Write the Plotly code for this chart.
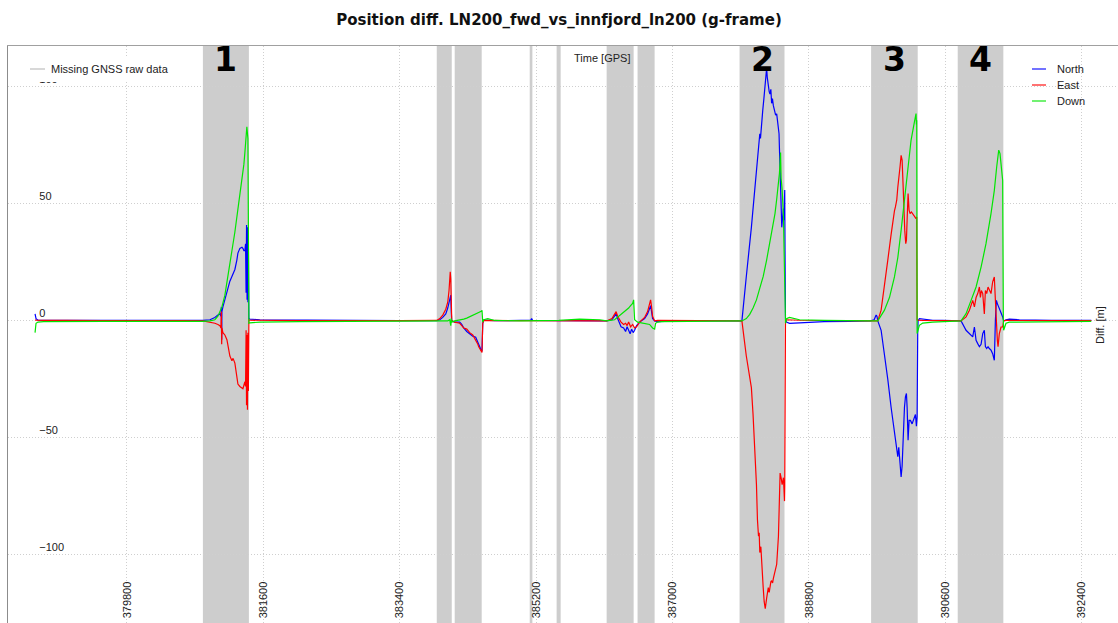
import plotly.graph_objects as go

# ---- position difference data (GPS seconds of week, metres) ----
t_north = [378587, 378594, 378600, 378626, 378700, 379000, 379500, 380000, 380500, 380802,
           380895, 380960, 381000, 381026, 381040, 381045, 381050, 381053, 381066, 381092,
           381119, 381158, 381185, 381224, 381250, 381264, 381290, 381317, 381330, 381343,
           381356, 381365, 381372, 381378, 381385, 381390, 381396, 381402, 381409, 381422,
           381554, 382081, 382741, 383400, 383888, 383928, 383967, 384007, 384033, 384059,
           384073, 384080, 384086, 384125, 384191, 384218, 384244, 384284, 384323, 384363,
           384402, 384430, 384442, 384468, 384485, 384495, 384508, 384561, 384653, 385000,
           385128, 385140, 385154, 385500, 385774, 386038, 386130, 386200, 386235, 386255,
           386275, 386300, 386320, 386354, 386380, 386400, 386420, 386440, 386460, 386480,
           386499, 386525, 386565, 386631, 386670, 386697, 386710, 386723, 386736, 386763,
           386802, 387092, 387620, 387884, 387915, 387973, 388018, 388040, 388062, 388085,
           388107, 388116, 388130, 388143, 388151, 388160, 388174, 388190, 388205, 388215,
           388227, 388241, 388250, 388263, 388275, 388285, 388297, 388307, 388318, 388330,
           388343, 388360, 388374, 388385, 388397, 388405, 388410, 388419, 388425, 388432,
           388441, 388446, 388454, 388463, 388470, 388477, 388480, 388484, 388486, 388490,
           388503, 388543, 388675, 389000, 389334, 389611, 389660, 389686, 389697, 389708,
           389752, 389796, 389840, 389884, 389906, 389928, 389941, 389958, 389972, 389985,
           390002, 390016, 390029, 390042, 390060, 390073, 390086, 390095, 390108, 390121,
           390139, 390161, 390183, 390205, 390218, 390227, 390235, 390240, 390257, 390301,
           390433, 390565, 390763, 390807, 390873, 390917, 390961, 390983, 391005, 391027,
           391049, 391071, 391093, 391114, 391128, 391145, 391163, 391180, 391202, 391224,
           391246, 391260, 391273, 391286, 391304, 391321, 391339, 391356, 391369, 391400,
           391444, 391576, 392000, 392525]
north = [3.0, 2.0, 1.0, 0.3, 0.2, 0.3, 0.1, 0.2, 0.3, 0.2,
         0.5, 1.5, 2.5, 3.0, 2.0, 6.0, -8.0, 4.0, 6.0, 9.0,
         13.0, 17.0, 19.0, 22.0, 26.0, 29.0, 31.0, 31.5, 31.0, 30.0,
         30.0, 33.0, 12.0, 41.0, 9.0, 40.0, 8.0, 35.0, 1.0, 0.8,
         0.5, 0.3, 0.2, 0.1, 0.1, 0.5, 1.5, 3.0, 5.5, 9.0,
         11.0, 4.0, 0.0, -0.5, -0.5, -1.5, -3.0, -4.5, -5.5, -6.5,
         -7.0, -9.5, -10.5, -12.0, -13.0, -1.0, 0.3, 0.2, 0.1, 0.2,
         0.3, 1.0, 0.2, 0.1, 0.0, 0.1, 0.0, 0.5, 2.0, 3.0,
         1.0, -1.5, -2.5, -3.0, -4.5, -2.5, -4.0, -5.5, -3.5, -5.0,
         -4.0, -2.0, -0.5, 1.0, 3.0, 5.0, 6.5, 4.0, 1.0, 0.0,
         -0.3, 0.0, 0.0, 0.0, 0.0, 19.0, 32.0, 40.0, 48.0, 56.0,
         63.0, 67.5, 70.0, 77.0, 80.0, 78.0, 85.0, 90.0, 95.0, 99.0,
         103.0, 108.0, 104.0, 100.0, 98.0, 97.0, 99.0, 93.0, 95.0, 92.0,
         90.0, 88.0, 88.5, 86.0, 84.0, 80.0, 74.0, 64.0, 58.0, 53.0,
         40.0, 42.0, 45.0, 48.0, 43.0, 50.0, 56.0, 30.0, 20.0, 0.5,
         -0.5, -1.0, -0.8, -0.3, -0.2, 0.0, 0.5, 2.5, 2.0, 0.0,
         -4.0, -14.0, -25.0, -37.0, -42.5, -47.0, -49.6, -55.0, -58.0, -54.0,
         -59.5, -66.7, -62.0, -48.0, -37.0, -32.5, -31.0, -36.8, -51.0, -42.5,
         -42.5, -44.0, -42.0, -40.0, -45.0, -41.0, -5.4, 0.0, 1.0, 0.8,
         0.3, 0.2, 0.1, 0.0, -4.0, -5.4, -6.8, -2.6, -8.3, -9.7,
         -11.0, -10.0, -5.4, -4.0, -11.0, -11.8, -11.0, -11.8, -12.5, -14.0,
         -16.8, 0.3, 8.8, 7.4, 6.0, 4.6, 3.0, 1.7, 0.0, 0.5,
         0.8, 0.5, 0.3, 0.2]

t_east = [378587, 378600, 378700, 379000, 379500, 380000, 380500, 380802, 380895, 380960,
          381000, 381026, 381040, 381045, 381050, 381053, 381066, 381092, 381119, 381140,
          381158, 381185, 381200, 381224, 381250, 381264, 381290, 381317, 381330, 381343,
          381356, 381365, 381372, 381378, 381385, 381390, 381396, 381402, 381409, 381422,
          381554, 382081, 383400, 383888, 383928, 383967, 384007, 384033, 384050, 384059,
          384066, 384073, 384080, 384086, 384125, 384191, 384218, 384244, 384284, 384323,
          384363, 384402, 384430, 384442, 384468, 384485, 384495, 384508, 385000, 386130,
          386200, 386235, 386255, 386275, 386300, 386320, 386354, 386380, 386400, 386420,
          386446, 386473, 386499, 386525, 386565, 386631, 386670, 386697, 386710, 386723,
          386736, 386763, 386802, 387884, 387915, 387973, 388018, 388040, 388062, 388085,
          388107, 388120, 388134, 388143, 388151, 388165, 388178, 388196, 388209, 388223,
          388241, 388252, 388263, 388275, 388285, 388297, 388307, 388320, 388330, 388352,
          388374, 388397, 388410, 388419, 388432, 388446, 388463, 388477, 388480, 388486,
          388490, 388503, 388675, 389611, 389708, 389752, 389796, 389840, 389884, 389906,
          389928, 389941, 389958, 389972, 389985, 390002, 390016, 390029, 390038, 390051,
          390064, 390077, 390086, 390095, 390108, 390121, 390134, 390152, 390169, 390191,
          390213, 390222, 390227, 390240, 390301, 390807, 390873, 390917, 390961, 390983,
          391005, 391027, 391049, 391062, 391075, 391093, 391114, 391128, 391145, 391163,
          391180, 391202, 391224, 391246, 391260, 391273, 391286, 391295, 391312, 391334,
          391356, 391369, 391400, 392525]
east = [0.5, 0.3, 0.2, 0.3, 0.1, 0.2, 0.1, 0.0, -0.5, -1.0,
        -1.5, -2.0, -3.0, 4.0, -10.0, -3.0, -5.0, -6.0, -8.0, -12.0,
        -15.0, -17.0, -16.0, -18.0, -24.0, -27.0, -28.0, -29.0, -29.0, -27.5,
        -26.0, -28.0, -4.0, -36.0, -6.0, -38.0, -5.0, -30.0, 0.5, 0.3,
        0.2, 0.1, 0.1, 0.2, 1.0, 2.5, 5.0, 8.0, 13.0, 17.0,
        21.0, 18.0, 5.0, 0.0, -0.5, -1.0, -2.0, -3.0, -3.5, -5.0,
        -6.0, -8.0, -10.0, -11.0, -12.5, -13.5, -1.0, 0.2, 0.1, 0.0,
        1.0, 3.0, 4.0, 2.0, 0.5, -0.5, -1.5, -1.0, -2.0, -0.5,
        -2.5, -1.5, -3.0, -2.5, -0.5, 1.5, 4.0, 7.0, 9.0, 6.0,
        2.0, 0.0, 0.2, 0.0, 0.0, -15.0, -24.0, -28.5, -40.0, -55.0,
        -70.0, -85.0, -92.0, -90.5, -99.0, -96.5, -107.0, -114.0, -120.0, -123.0,
        -118.6, -116.0, -114.0, -116.0, -113.0, -111.5, -111.0, -112.0, -110.0, -107.0,
        -104.0, -92.0, -77.0, -65.0, -67.0, -70.0, -67.0, -77.0, -71.0, -5.0,
        0.3, 0.5, 0.3, 0.0, 0.0, 4.6, 14.5, 26.0, 37.0, 43.0,
        47.0, 48.7, 51.6, 57.0, 60.0, 66.0, 70.8, 68.7, 61.5, 47.0,
        38.7, 33.0, 34.5, 43.0, 54.4, 47.3, 45.9, 46.6, 45.9, 45.0,
        43.7, 44.4, 0.5, 0.3, 0.2, 0.0, 1.7, 4.6, 8.8, 6.0,
        10.0, 11.7, 14.5, 10.0, 13.0, 11.7, 3.0, 13.0, 11.7, 14.5,
        13.0, 11.7, 16.7, 18.8, 8.8, -2.6, -8.3, -11.0, -5.4, -2.6,
        -2.6, 0.0, 0.2, 0.1]

t_down = [378587, 378594, 378600, 378626, 378700, 379500, 380500, 380802, 380895, 380960,
          381000, 381026, 381053, 381092, 381119, 381158, 381185, 381224, 381264, 381290,
          381317, 381343, 381356, 381369, 381382, 381396, 381405, 381409, 381422, 381554,
          382081, 383888, 384033, 384059, 384073, 384080, 384086, 384125, 384191, 384244,
          384284, 384323, 384363, 384402, 384442, 384468, 384485, 384495, 384508, 384561,
          384653, 385000, 385500, 385774, 386038, 386130, 386235, 386275, 386314, 386354,
          386394, 386420, 386446, 386473, 386486, 386492, 386499, 386538, 386631, 386697,
          386736, 386763, 386776, 386802, 386855, 387620, 387915, 387973, 388018, 388062,
          388107, 388151, 388196, 388241, 388285, 388330, 388352, 388374, 388397, 388410,
          388419, 388425, 388432, 388446, 388463, 388477, 388484, 388490, 388503, 388543,
          388675, 389000, 389611, 389708, 389796, 389862, 389928, 389972, 390016, 390060,
          390104, 390147, 390191, 390205, 390213, 390218, 390222, 390227, 390257, 390301,
          390433, 390807, 390873, 390939, 391005, 391071, 391136, 391202, 391246, 391277,
          391304, 391321, 391334, 391348, 391356, 391365, 391369, 391400, 391444, 392525]
down = [-5.0, -3.0, -1.0, -0.5, -0.3, -0.2, -0.3, -0.2, 0.0, 0.5,
        2.0, 4.0, 6.0, 11.0, 16.0, 24.0, 30.0, 38.0, 47.0, 53.0,
        60.0, 67.0, 72.0, 77.0, 83.0, 78.0, 5.0, -1.0, -0.8, -0.5,
        -0.3, -0.2, 0.0, 0.5, -2.0, 1.0, -0.5, 0.0, 0.3, 0.8,
        1.2, 1.8, 2.3, 2.8, 3.5, 4.0, 4.5, -0.5, 0.5, 1.0,
        0.2, 0.0, 0.2, 0.8, 0.5, 0.0, 0.5, 1.5, 2.5, 3.5,
        4.5, 5.5, 6.5, 7.5, 9.0, 3.0, 0.5, -0.5, -1.0, -1.5,
        -3.0, -3.5, -1.0, -0.5, -0.3, -0.2, 0.0, 1.0, 2.8, 5.5,
        9.0, 14.0, 19.0, 26.0, 33.5, 42.0, 46.0, 52.0, 58.0, 63.0,
        68.0, 72.0, 61.0, 56.0, 45.0, 20.5, 0.0, -1.0, 1.0, 1.5,
        0.5, 0.2, 0.0, 0.0, 4.6, 10.0, 18.8, 27.0, 38.7, 51.6,
        65.8, 77.2, 85.0, 87.0, 88.6, 84.0, 85.8, -5.4, -1.9, -0.9,
        -0.5, 0.0, 3.1, 8.8, 14.5, 23.0, 33.0, 45.9, 55.8, 65.8,
        73.0, 71.5, 65.8, 61.5, 60.0, 0.0, -4.0, -1.0, -0.5, -0.2]

# intervals without GNSS raw data
gap_start = [380802, 383888, 384125, 385115, 385470, 386130, 386538, 387884, 389620, 390763]
gap_end = [381409, 384086, 384481, 385150, 385523, 386486, 386763, 388477, 390235, 391365]

# numbered outage intervals: label -> index into the gap lists
outage_labels = ["1", "2", "3", "4"]
outage_gap_index = [0, 7, 8, 9]

x_ticks = [379800, 381600, 383400, 385200, 387000, 388800, 390600, 392400]
y_ticks = [-100, -50, 0, 50, 100]

series_names = ["North", "East", "Down"]
series_colors = ["#0000ff", "#ff0000", "#00e600"]
gap_name = "Missing GNSS raw data"
gap_color = "#cdcdcd"

FONT = "Liberation Sans"
TEXT = "#222222"
W, H = 1118, 623
ML, MT = 8, 46


def px(xp):
    """figure pixel column -> paper x"""
    return (xp - ML) / (W - ML)


def py(yp):
    """figure pixel row -> paper y"""
    return (H - yp) / (H - MT)


fig = go.Figure()

for name, tx, vy, col in zip(series_names, [t_north, t_east, t_down],
                             [north, east, down], series_colors):
    fig.add_trace(go.Scatter(x=tx, y=vy, mode="lines", name=name, showlegend=False,
                             line=dict(color=col, width=1.2)))

for s, e in zip(gap_start, gap_end):
    fig.add_shape(type="rect", xref="x", yref="paper", x0=s, x1=e, y0=0, y1=1,
                  fillcolor=gap_color, line_width=0, layer="between")

for lab, gi in zip(outage_labels, outage_gap_index):
    fig.add_annotation(x=(gap_start[gi] + gap_end[gi]) / 2, xref="x", y=0.977, yref="paper",
                       text="<b>%s</b>" % lab, showarrow=False, yanchor="middle",
                       font=dict(family="DejaVu Sans", size=33, color="#000000"))

# legend for the shaded intervals (top left, on a white box)
fig.add_shape(type="rect", xref="paper", yref="paper", x0=px(22), x1=px(176),
              y0=py(82), y1=py(57), fillcolor="white", line_width=0, layer="above")
fig.add_shape(type="line", xref="paper", yref="paper", x0=px(30), x1=px(45),
              y0=py(69), y1=py(69), line=dict(color="#d8d8d8", width=2), layer="above")
fig.add_annotation(text=gap_name, x=px(49), y=py(69), xref="paper", yref="paper",
                   xanchor="left", yanchor="middle", showarrow=False,
                   font=dict(family=FONT, size=11, color=TEXT))

# legend for the difference components (top right)
for i, (name, col) in enumerate(zip(series_names, series_colors)):
    yy = py(69 + 16 * i)
    fig.add_shape(type="line", xref="paper", yref="paper", x0=px(1032), x1=px(1046),
                  y0=yy, y1=yy, line=dict(color=col, width=2), opacity=0.55, layer="above")
    fig.add_annotation(text=name, x=px(1055), y=yy, xref="paper", yref="paper",
                       xanchor="left", yanchor="middle", showarrow=False,
                       font=dict(family=FONT, size=11, color=TEXT))

fig.add_annotation(text="Time [GPS]", x=px(602), xref="paper", y=py(58), yref="paper",
                   showarrow=False, yanchor="middle",
                   font=dict(family=FONT, size=11, color=TEXT))
fig.add_annotation(text="Diff. [m]", x=px(1100), xref="paper", y=py(325), yref="paper",
                   textangle=-90, showarrow=False, xanchor="center", yanchor="middle",
                   font=dict(family=FONT, size=11, color=TEXT))

fig.update_layout(
    width=W, height=H,
    margin=dict(l=ML, r=0, t=MT, b=0),
    paper_bgcolor="white", plot_bgcolor="white",
    title=dict(text="<b>Position diff. LN200_fwd_vs_innfjord_ln200 (g-frame)</b>",
               x=0.5, xanchor="center", y=0.968, yref="container", yanchor="middle",
               font=dict(family="DejaVu Sans", size=15, color="#111111")),
    font=dict(family=FONT, size=11, color=TEXT),
    showlegend=False,
    xaxis=dict(range=[378230, 392878], tickvals=x_ticks, ticktext=[str(v) for v in x_ticks],
               tickangle=-90, ticklabelposition="inside", ticks="", showgrid=True,
               gridcolor="#cfcfcf", griddash="1px,2px", gridwidth=1, zeroline=False,
               showline=True, linecolor="#a0a0a0", mirror=True,
               tickfont=dict(family=FONT, size=11, color=TEXT)),
    yaxis=dict(range=[-129.1, 117.5], tickvals=y_ticks, ticklabelposition="inside top",
               ticklabelstandoff=30, ticks="", showgrid=True, gridcolor="#cfcfcf",
               griddash="1px,2px", gridwidth=1, zeroline=False, showline=True,
               linecolor="#8c8c8c", mirror=True,
               tickfont=dict(family=FONT, size=11, color=TEXT)),
)

fig.write_html("out.html")
